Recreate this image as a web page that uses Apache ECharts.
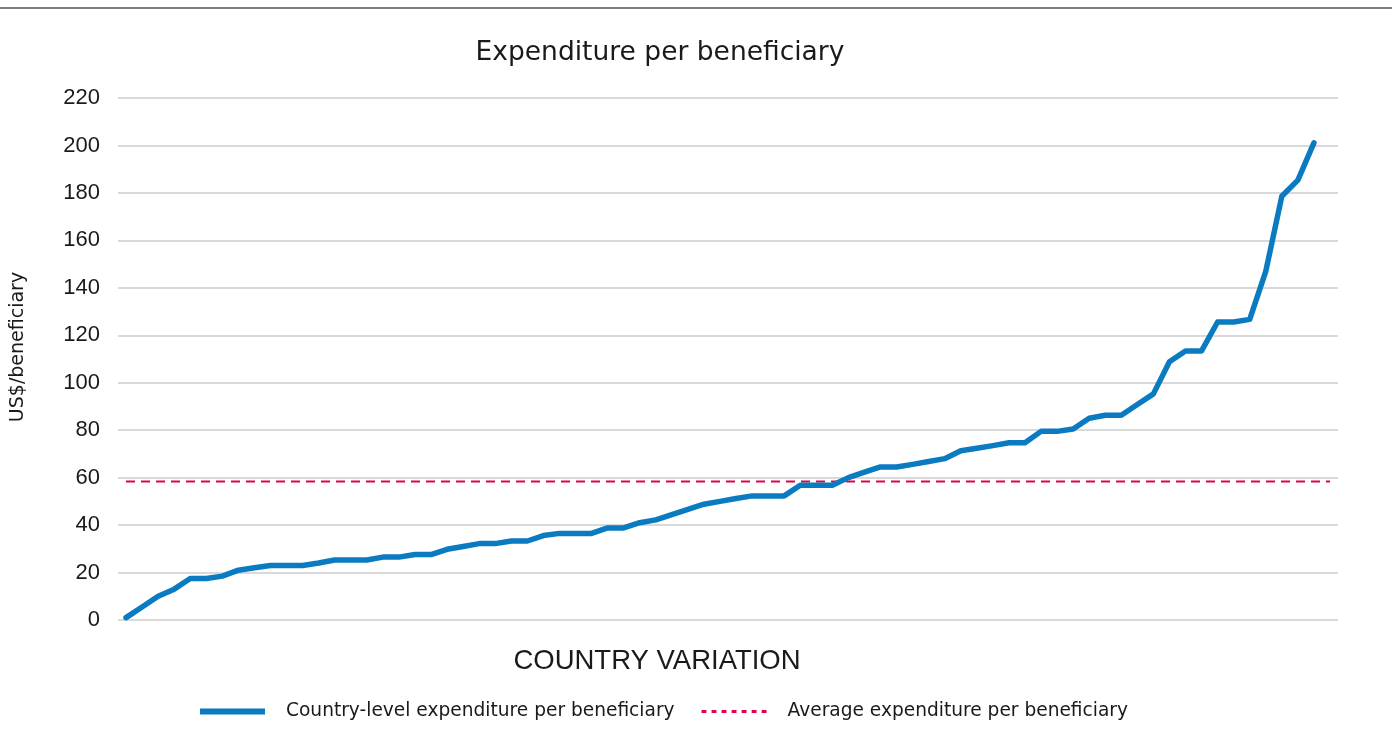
<!DOCTYPE html>
<html>
<head>
<meta charset="utf-8">
<script src="https://cdn.jsdelivr.net/npm/echarts@6/dist/echarts.min.js"></script>
<style>
html,body{margin:0;padding:0;background:#fff;}
#chart{width:1392px;height:742px;}
</style>
</head>
<body>
<div id="chart"></div>
<script>
const titleText = 'Expenditure per beneficiary';
const xAxisName = 'COUNTRY VARIATION';
const yAxisName = 'US$/beneficiary';
const seriesNames = ['Country-level expenditure per beneficiary', 'Average expenditure per beneficiary'];
const yTicks = [0, 20, 40, 60, 80, 100, 120, 140, 160, 180, 200, 220];

// 75 countries (sorted), plus one empty trailing category slot
const countryValues = [
  1, 5.5, 10, 13, 17.5, 17.5, 18.5, 21, 22, 23,
  23, 23, 24, 25.3, 25.3, 25.3, 26.5, 26.5, 27.6, 27.6,
  29.8, 31, 32.2, 32.2, 33.3, 33.3, 35.6, 36.5, 36.5, 36.5,
  38.8, 38.8, 41, 42.2, 44.4, 46.6, 48.8, 50, 51.2, 52.3,
  52.3, 52.3, 56.8, 56.8, 56.8, 60, 62.3, 64.5, 64.5, 65.6,
  66.8, 68, 71.3, 72.4, 73.5, 74.7, 74.7, 79.5, 79.5, 80.5,
  85, 86.3, 86.3, 90.8, 95.3, 108.8, 113.4, 113.4, 125.6, 125.6,
  126.7, 146.9, 178.6, 185.4, 201.1, null
];
const averageValue = 58.4;
const categories = countryValues.map((v, i) => String(i + 1));
const averageValues = categories.map(() => averageValue);

const dottedIcon = 'path://M0,0h5v3h-5z M10.3,0h5v3h-5z M20.6,0h5v3h-5z M30.9,0h5v3h-5z M41.2,0h5v3h-5z M51.5,0h5v3h-5z M61.8,0h5v3h-5z';

const chart = echarts.init(document.getElementById('chart'), null, {renderer: 'canvas'});
chart.setOption({
  animation: false,
  backgroundColor: '#ffffff',
  title: {
    text: titleText,
    left: 655, top: 35, textAlign: 'center',
    textStyle: {fontFamily: 'DejaVu Sans', fontSize: 26.5, fontWeight: 'normal', color: '#1a1a1a'}
  },
  graphic: [
    {type: 'line', shape: {x1: 0, y1: 8, x2: 1392, y2: 8}, style: {stroke: '#555555', lineWidth: 1.5}},
    {type: 'text', x: 18, y: 347, rotation: Math.PI / 2,
      style: {text: yAxisName, font: '19px "DejaVu Sans"', fill: '#1a1a1a', textAlign: 'center', textVerticalAlign: 'middle'}},
    {type: 'text', x: 657, y: 661,
      style: {text: xAxisName, font: '27.5px "Liberation Sans"', fill: '#1a1a1a', textAlign: 'center', textVerticalAlign: 'middle'}}
  ],
  legend: {
    left: 195, top: 697,
    itemWidth: 65, itemHeight: 6, itemGap: 27,
    textStyle: {fontFamily: 'DejaVu Sans', fontSize: 18.6, color: '#1a1a1a', padding: [0, 0, 0, 16]},
    data: [
      {name: seriesNames[0], icon: 'path://M0,0 L65,0 L65,6 L0,6 Z', itemStyle: {color: '#0b7bc1'}},
      {name: seriesNames[1], icon: dottedIcon, itemStyle: {color: '#e0004d'}}
    ]
  },
  grid: {left: 118, right: 54, top: 98, bottom: 122, containLabel: false},
  xAxis: {
    type: 'category',
    data: categories,
    boundaryGap: true,
    axisLine: {show: false},
    axisTick: {show: false},
    axisLabel: {show: false},
    splitLine: {show: false}
  },
  yAxis: {
    type: 'value',
    min: yTicks[0], max: yTicks[yTicks.length - 1], interval: 20,
    axisLine: {show: false},
    axisTick: {show: false},
    axisLabel: {fontFamily: 'Liberation Sans', fontSize: 22, color: '#1a1a1a', margin: 18},
    splitLine: {lineStyle: {color: '#d9d9d9', width: 2}}
  },
  series: [
    {
      name: seriesNames[0], type: 'line', data: countryValues,
      symbol: 'none', lineStyle: {color: '#0b7bc1', width: 5.5, join: 'round', cap: 'round'},
      itemStyle: {color: '#0b7bc1'}, z: 3
    },
    {
      name: seriesNames[1], type: 'line', data: averageValues,
      symbol: 'none', lineStyle: {color: '#e0004d', width: 2, type: [9, 6]},
      itemStyle: {color: '#e0004d'}, z: 2
    }
  ]
});
</script>
</body>
</html>
